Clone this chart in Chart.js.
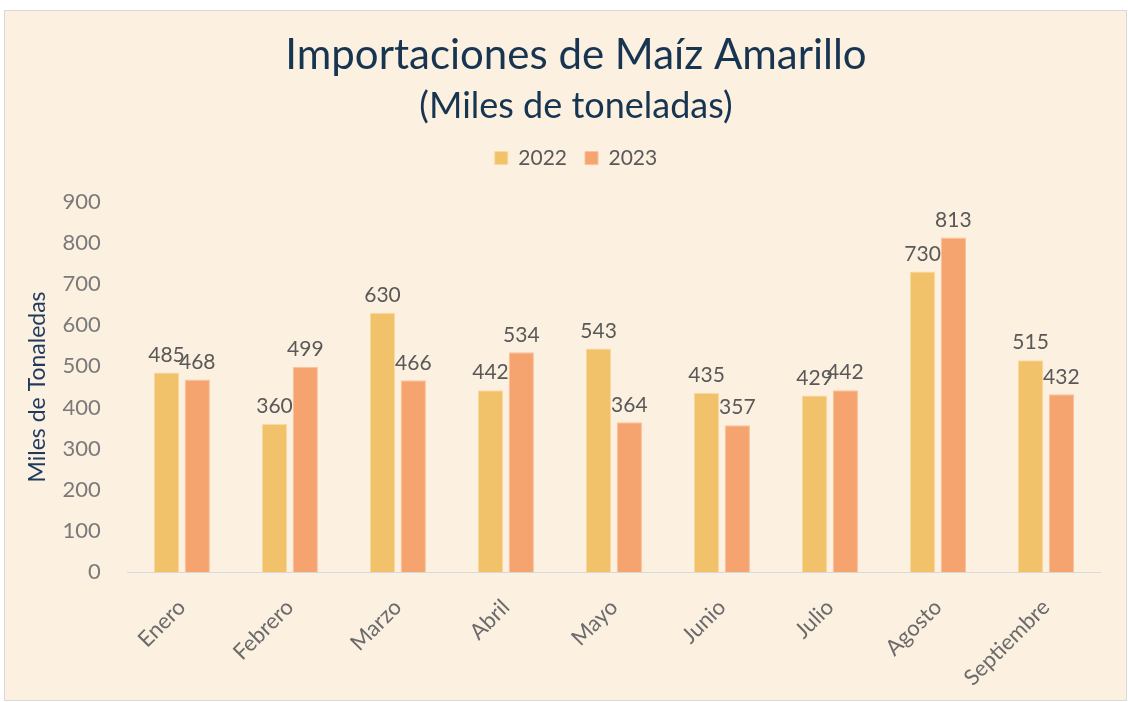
<!DOCTYPE html>
<html>
<head>
<meta charset="utf-8">
<script src="https://cdn.jsdelivr.net/npm/chart.js@4/dist/chart.umd.min.js"></script>
<style>
    html, body { margin: 0; padding: 0; background: #ffffff; }
    #wrap { position: absolute; left: 0; top: 0; width: 1128px; height: 702px; }
</style>
</head>
<body>
<div id="wrap"><canvas id="maizChart" width="1128" height="702"></canvas></div>
<script>
// Datos del gráfico
const months = ['Enero', 'Febrero', 'Marzo', 'Abril', 'Mayo', 'Junio', 'Julio', 'Agosto', 'Septiembre'];
const values2022 = [485, 360, 630, 442, 543, 435, 429, 730, 515];
const values2023 = [468, 499, 466, 534, 364, 357, 442, 813, 432];
const yTicks = [0, 100, 200, 300, 400, 500, 600, 700, 800, 900];

const FONT = 'Lato, "Noto Sans", sans-serif';

// Panel background with thin border
const panelBackground = {
    id: 'panelBackground',
    beforeDraw(chart) {
        const ctx = chart.ctx;
        ctx.save();
        ctx.fillStyle = '#FCF0E0';
        ctx.fillRect(4, 10, 1123, 691);
        ctx.strokeStyle = '#D9D9D9';
        ctx.lineWidth = 1;
        ctx.strokeRect(4.5, 10.5, 1122, 690);
        ctx.restore();
    }
};

// Extra space below the legend
const legendSpacing = {
    id: 'legendSpacing',
    beforeInit(chart) {
        const origFit = chart.legend.fit;
        chart.legend.fit = function() {
            origFit.bind(chart.legend)();
            this.height += 23;
        };
    }
};

// Value labels over each bar
const barValueLabels = {
    id: 'barValueLabels',
    afterDatasetsDraw(chart) {
        const ctx = chart.ctx;
        ctx.save();
        ctx.font = '21px ' + FONT;
        ctx.fillStyle = '#595959';
        ctx.textAlign = 'center';
        ctx.textBaseline = 'bottom';
        chart.data.datasets.forEach((ds, i) => {
            const meta = chart.getDatasetMeta(i);
            meta.data.forEach((bar, j) => {
                ctx.fillText(String(ds.data[j]), bar.x, bar.y - 7);
            });
        });
        ctx.restore();
    }
};

document.addEventListener('DOMContentLoaded', function() {
    const ctx = document.getElementById('maizChart');

    new Chart(ctx.getContext('2d'), {
        type: 'bar',
        data: {
            labels: months,
            datasets: [{
                label: '2022',
                data: values2022,
                backgroundColor: '#F2C26B',
                borderColor: '#F9D99C',
                borderWidth: 1,
                categoryPercentage: 0.57,
                barPercentage: 0.82
            }, {
                label: '2023',
                data: values2023,
                backgroundColor: '#F5A470',
                borderColor: '#F9C29C',
                borderWidth: 1,
                categoryPercentage: 0.57,
                barPercentage: 0.82
            }]
        },
        options: {
            responsive: false,
            animation: false,
            layout: { padding: { top: 18, left: 52, right: 28, bottom: 4 } },
            plugins: {
                title: {
                    display: true,
                    text: 'Importaciones de Maíz Amarillo',
                    color: '#173451',
                    font: { family: FONT, size: 42, weight: 'normal' },
                    padding: { top: 12, bottom: 4 }
                },
                subtitle: {
                    display: true,
                    text: '(Miles de toneladas)',
                    color: '#173451',
                    font: { family: FONT, size: 36, weight: 'normal' },
                    padding: { top: 0, bottom: 2 }
                },
                legend: {
                    display: true,
                    position: 'top',
                    labels: {
                        boxWidth: 13,
                        boxHeight: 13,
                        padding: 18,
                        color: '#595959',
                        font: { family: FONT, size: 21 }
                    }
                },
                tooltip: { enabled: false }
            },
            scales: {
                x: {
                    afterFit(axis) {
                        // keep the rotated labels from widening the left margin
                        axis.paddingLeft = 0;
                        axis.paddingRight = 0;
                        axis.height -= 15;
                    },
                    grid: { display: false, drawTicks: false },
                    border: { display: true, color: '#D9D9D9', width: 1 },
                    ticks: {
                        color: '#6B6B6B',
                        font: { family: FONT, size: 22 },
                        minRotation: 45,
                        maxRotation: 45,
                        padding: 22
                    }
                },
                y: {
                    min: 0,
                    max: 900,
                    afterBuildTicks(axis) {
                        axis.ticks = yTicks.map(v => ({ value: v }));
                    },
                    afterFit(axis) {
                        axis.width -= 27;
                    },
                    grid: { display: false, drawTicks: false },
                    border: { display: false },
                    ticks: {
                        color: '#7A7A7A',
                        font: { family: FONT, size: 22 },
                        padding: 27
                    },
                    title: {
                        display: true,
                        text: 'Miles de Tonaledas',
                        color: '#1F3A5F',
                        font: { family: FONT, size: 23 },
                        padding: { top: -28, bottom: 11 }
                    }
                }
            }
        },
        plugins: [panelBackground, legendSpacing, barValueLabels]
    });
});
</script>
</body>
</html>
